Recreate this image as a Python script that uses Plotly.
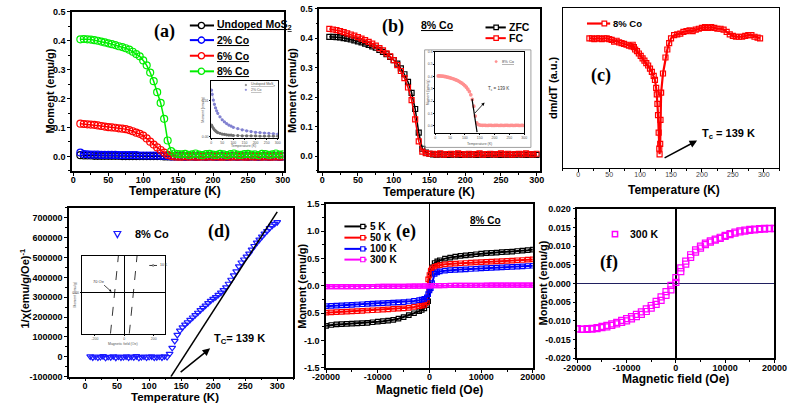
import plotly.graph_objects as go

W, H = 799, 408

# ---------------- data ----------------
# (a) / (b) temperature grid (K)
T_grid = [10, 15, 20, 25, 30, 35, 40, 45, 50, 55, 60, 65, 70, 75, 80, 85, 90, 95, 100, 105,
          110, 115, 120, 125, 130, 135, 140, 145, 150, 155, 160, 165, 170, 175, 180, 185, 190, 195,
          200, 205, 210, 215, 220, 225, 230, 235, 240, 245, 250, 255, 260, 265, 270, 275, 280, 285,
          290, 295, 300]

M_a_undoped = [0.004, 0.003, 0.003, 0.003, 0.002, 0.002, 0.002, 0.002, 0.002, 0.002,
               0.002, 0.002, 0.001, 0.001, 0.001, 0.001, 0.001, 0.001, 0.001, 0.001,
               0.001, 0.001, 0.001, 0.001, 0.000, 0.000, 0.000, 0.000, 0.000,
               0.000, -0.001, 0.000, 0.000, -0.001, 0.000, 0.000, -0.001, 0.000, 0.000,
               -0.001, 0.000, 0.000, -0.001, 0.000, 0.000, -0.001, 0.000, 0.000, -0.001,
               0.000, 0.000, -0.001, 0.000, 0.000, -0.001, 0.000, 0.000, -0.001, 0.000]
M_a_2 = [0.013, 0.008, 0.007, 0.006, 0.006, 0.006, 0.005, 0.005, 0.005, 0.005,
         0.005, 0.004, 0.004, 0.004, 0.004, 0.004, 0.004, 0.003, 0.003, 0.003,
         0.003, 0.003, 0.003, 0.002, 0.002, 0.001, 0.000, 0.000, 0.000,
         0.000, -0.001, 0.000, 0.000, -0.001, 0.000, 0.000, -0.001, 0.000, 0.000,
         -0.001, 0.000, 0.000, -0.001, 0.000, 0.000, -0.001, 0.000, 0.000, -0.001,
         0.000, 0.000, -0.001, 0.000, 0.000, -0.001, 0.000, 0.000, -0.001, 0.000]
M_a_6 = [0.113, 0.112, 0.111, 0.110, 0.109, 0.107, 0.105, 0.103, 0.101, 0.100,
         0.099, 0.097, 0.096, 0.094, 0.091, 0.087, 0.082, 0.078, 0.072, 0.062,
         0.051, 0.041, 0.031, 0.022, 0.013, 0.005, 0.001, 0.000, -0.001,
         -0.001, 0.000, -0.001, 0.000, -0.001, -0.001, 0.000, -0.001, 0.000, -0.001,
         0.000, -0.001, -0.001, 0.000, -0.001, 0.000, -0.001, 0.000, -0.001, -0.001,
         0.000, -0.001, 0.000, -0.001, 0.000, -0.001, -0.001, 0.000, -0.001, 0.000]
M_a_8 = [0.405, 0.406, 0.405, 0.404, 0.402, 0.400, 0.397, 0.394, 0.391, 0.388,
         0.385, 0.381, 0.378, 0.374, 0.369, 0.362, 0.354, 0.346, 0.332, 0.315,
         0.290, 0.260, 0.222, 0.185, 0.130, 0.055, 0.018, 0.010, 0.008,
         0.007, 0.009, 0.005, 0.007, 0.010, 0.006, 0.004, 0.008, 0.009, 0.006,
         0.005, 0.009, 0.007, 0.004, 0.008, 0.010, 0.006, 0.005, 0.008, 0.009,
         0.006, 0.007, 0.004, 0.009, 0.008, 0.005, 0.007, 0.010, 0.006, 0.007]

# (a) inset
T_ia = [2, 5, 10, 15, 20, 25, 30, 40, 50, 60, 70, 80, 90, 100, 120, 140, 160, 180, 200, 220, 240, 260, 280, 300]
M_ia_2 = [0.0130, 0.0118, 0.0102, 0.0090, 0.0080, 0.0072, 0.0065, 0.0055, 0.0047, 0.0041, 0.0036, 0.0032,
          0.0029, 0.0026, 0.0022, 0.0019, 0.0016, 0.0014, 0.0012, 0.0011, 0.0010, 0.0009, 0.0008, 0.0007]
M_ia_0 = [0.0032, 0.0028, 0.0023, 0.0019, 0.0016, 0.0013, 0.0011, 0.0009, 0.0007, 0.0006, 0.0005, 0.0004,
          0.0004, 0.0003, 0.0003, 0.0002, 0.0002, 0.0002, 0.0002, 0.0001, 0.0001, 0.0001, 0.0001, 0.0001]

# (b) ZFC / FC (8% Co)
M_b_zfc = [0.405, 0.405, 0.404, 0.403, 0.401, 0.399, 0.396, 0.393, 0.390, 0.386,
           0.382, 0.378, 0.373, 0.368, 0.361, 0.354, 0.346, 0.337, 0.326, 0.314,
           0.298, 0.278, 0.252, 0.215, 0.160, 0.080, 0.025, 0.012, 0.008,
           0.006, 0.005, 0.006, 0.005, 0.004, 0.005, 0.006, 0.005, 0.004, 0.005,
           0.005, 0.006, 0.004, 0.005, 0.005, 0.004, 0.005, 0.006, 0.005, 0.004,
           0.005, 0.005, 0.004, 0.005, 0.006, 0.005, 0.004, 0.005, 0.005, 0.004]
M_b_fc = [0.432, 0.430, 0.428, 0.425, 0.421, 0.417, 0.413, 0.409, 0.404, 0.399,
          0.394, 0.388, 0.382, 0.375, 0.367, 0.359, 0.349, 0.339, 0.326, 0.309,
          0.289, 0.265, 0.233, 0.190, 0.125, 0.050, 0.015, 0.010, 0.008,
          0.008, 0.006, 0.009, 0.005, 0.007, 0.008, 0.006, 0.009, 0.007, 0.005,
          0.008, 0.006, 0.007, 0.009, 0.005, 0.007, 0.008, 0.006, 0.007, 0.009,
          0.006, 0.008, 0.005, 0.007, 0.008, 0.006, 0.009, 0.007, 0.006, 0.008]
# (b) inset linear fit near Tc
T_fit_b = [124, 141]
M_fit_b = [0.22, -0.05]

# (c) dm/dT (a.u.)
T_c = [18, 22, 26, 30, 34, 38, 42, 46, 50, 54, 58, 62, 66, 70, 74, 78, 82, 86, 88, 90,
       92, 95, 98, 101, 104, 107, 110, 113, 116, 119, 122, 124, 126, 127, 128, 129, 130, 131, 131.5, 132.5,
       133, 134, 137, 141, 144, 147, 150, 155, 160, 165, 170, 175, 180, 185, 190, 195, 200, 205, 210, 215,
       220, 225, 230, 235, 240, 245, 250, 255, 260, 265, 270, 275, 280, 285, 290, 294]
dmdT_c = [0.81, 0.81, 0.805, 0.81, 0.81, 0.805, 0.81, 0.81, 0.805, 0.80,
          0.79, 0.795, 0.785, 0.78, 0.775, 0.77, 0.765, 0.76, 0.77, 0.755,
          0.74, 0.73, 0.715, 0.70, 0.685, 0.67, 0.655, 0.64, 0.62, 0.60,
          0.575, 0.55, 0.50, 0.46, 0.40, 0.33, 0.22, 0.12, 0.085, 0.15,
          0.30, 0.47, 0.59, 0.69, 0.74, 0.78, 0.81, 0.83, 0.835, 0.84,
          0.85, 0.855, 0.86, 0.855, 0.865, 0.87, 0.875, 0.88, 0.875, 0.88,
          0.875, 0.87, 0.87, 0.865, 0.85, 0.835, 0.825, 0.82, 0.82, 0.82,
          0.825, 0.83, 0.83, 0.82, 0.815, 0.81]

# (d) inverse susceptibility
T_d = [8, 12, 16, 20, 24, 28, 32, 36, 40, 44, 48, 52, 56, 60, 64, 68, 72, 76, 80, 84, 88, 92, 96, 100,
       104, 108, 112, 116, 120, 124, 128, 132, 136, 140, 144, 148, 152, 156, 160, 164, 168, 172, 176, 180,
       184, 188, 192, 196, 200, 204, 208, 212, 216, 220, 224, 228, 232, 236, 240, 244, 248, 252, 256, 260,
       264, 268, 272, 276, 280, 284, 288, 292, 296, 300]
chi_inv_d = [2000, -3000, 1500, -4000, -1000, 3000, -5000, 0, -2000, 2500, -4500, 1000, -3000, -1500, 2000,
             -4000, 500, -2500, 3000, -5000, -1000, 1500, -3500, 0, 2000, -4000, -2000, 1000, -3000, 2500, -1000,
             15000, 45000, 80000, 110000, 132000, 148000, 162000, 174000, 186000, 198000, 210000, 222000, 235000,
             246000, 258000, 270000, 282000, 292000, 301000, 312000, 323000, 336000, 350000, 368000, 388000,
             410000, 430000, 455000, 475000, 490000, 505000, 520000, 540000, 558000, 575000, 590000, 605000,
             620000, 633000, 648000, 660000, 670000, 678000]
T_fit_d = [134, 300]
chi_fit_d = [-100000, 730000]
# (d) inset: M(H) branches at 10 K
H_id_1 = [-94, -40]
M_id_1 = [-0.42, 0.38]
H_id_2 = [34, 87]
M_id_2 = [-0.42, 0.38]

# (e) M(H) loops
H_e = [-20000, -19000, -18000, -17000, -16000, -15000, -14000, -13000, -12000, -11000, -10000, -9000,
       -8000, -7000, -6000, -5000, -4000, -3000, -2000, -1500, -1000, -500, -250, 0, 250, 500, 1000, 1500,
       2000, 3000, 4000, 5000, 6000, 7000, 8000, 9000, 10000, 11000, 12000, 13000, 14000, 15000, 16000,
       17000, 18000, 19000, 20000]
M_e_5K = [-0.73, -0.715, -0.705, -0.70, -0.695, -0.69, -0.685, -0.68, -0.675, -0.665, -0.655, -0.645,
          -0.635, -0.62, -0.60, -0.57, -0.535, -0.50, -0.46, -0.44, -0.41, -0.35, -0.28, -0.05, 0.25, 0.34,
          0.42, 0.45, 0.47, 0.50, 0.52, 0.535, 0.55, 0.56, 0.57, 0.58, 0.59, 0.60, 0.605, 0.61, 0.62, 0.625,
          0.63, 0.64, 0.645, 0.655, 0.665]
M_e_50K = [-0.49, -0.485, -0.48, -0.475, -0.47, -0.465, -0.46, -0.455, -0.45, -0.445, -0.44, -0.435,
           -0.43, -0.42, -0.415, -0.41, -0.40, -0.385, -0.37, -0.36, -0.345, -0.30, 0.12, 0.20, 0.28, 0.32,
           0.35, 0.37, 0.38, 0.395, 0.405, 0.41, 0.415, 0.42, 0.425, 0.43, 0.435, 0.44, 0.445, 0.45, 0.455,
           0.46, 0.465, 0.47, 0.475, 0.48, 0.485]
M_e_100K = [-0.37, -0.365, -0.36, -0.355, -0.35, -0.345, -0.34, -0.335, -0.33, -0.325, -0.32, -0.315,
            -0.31, -0.305, -0.30, -0.295, -0.285, -0.275, -0.26, -0.25, -0.235, -0.21, -0.15, -0.08, -0.04, 0.05,
            0.22, 0.25, 0.265, 0.28, 0.29, 0.295, 0.30, 0.305, 0.31, 0.315, 0.32, 0.325, 0.33, 0.335, 0.34,
            0.345, 0.35, 0.355, 0.36, 0.365, 0.37]

# (e)/(f) 300 K loop
H_300 = [-20000, -19000, -18000, -17000, -16000, -15000, -14000, -13000, -12000, -11000, -10000, -9000,
         -8000, -7000, -6000, -5000, -4000, -3000, -2000, -1000, 0, 1000, 2000, 3000, 4000, 5000, 6000, 7000,
         8000, 9000, 10000, 11000, 12000, 13000, 14000, 15000, 16000, 17000, 18000, 19000, 20000]
M_300_up = [-0.0122, -0.0123, -0.0123, -0.0122, -0.0121, -0.0118, -0.0116, -0.0112, -0.0108, -0.0104,
            -0.0100, -0.0095, -0.0089, -0.0083, -0.0075, -0.0066, -0.0056, -0.0045, -0.0032, -0.0017,
            0.0003,
            0.0032, 0.0052, 0.0070, 0.0084, 0.0095, 0.0104, 0.0111, 0.0116, 0.0121, 0.0126,
            0.0131, 0.0135, 0.0138, 0.0140, 0.0142, 0.0144, 0.0145, 0.0146, 0.0147, 0.0147]
M_300_down = [-0.0121, -0.0122, -0.0121, -0.0120, -0.0118, -0.0115, -0.0112, -0.0108, -0.0104, -0.0099,
              -0.0094, -0.0089, -0.0083, -0.0076, -0.0068, -0.0059, -0.0048, -0.0036, -0.0022, -0.0005,
              0.0016,
              0.0042, 0.0060, 0.0077, 0.0090, 0.0100, 0.0108, 0.0114, 0.0119, 0.0124, 0.0129,
              0.0134, 0.0138, 0.0141, 0.0143, 0.0145, 0.0146, 0.0147, 0.0148, 0.0148, 0.0148]

# tick labels
ticks_T = [0, 50, 100, 150, 200, 250, 300]
labels_T = ["0", "50", "100", "150", "200", "250", "300"]
ticks_M = [0.0, 0.1, 0.2, 0.3, 0.4, 0.5]
labels_M = ["0.0", "0.1", "0.2", "0.3", "0.4", "0.5"]
ticks_Mi = [0.0, 0.1, 0.2, 0.3, 0.4, 0.5, 0.6]
labels_Mi = ["0.0", "0.1", "0.2", "0.3", "0.4", "0.5", "0.6"]
ticks_chi = [-100000, 0, 100000, 200000, 300000, 400000, 500000, 600000, 700000]
labels_chi = ["-100000", "0", "100000", "200000", "300000", "400000", "500000", "600000", "700000"]
ticks_H = [-20000, -10000, 0, 10000, 20000]
labels_H = ["-20000", "-10000", "0", "10000", "20000"]
ticks_Me = [-1.5, -1.0, -0.5, 0.0, 0.5, 1.0, 1.5]
labels_Me = ["-1.5", "-1.0", "-0.5", "0.0", "0.5", "1.0", "1.5"]
ticks_Mf = [-0.02, -0.015, -0.01, -0.005, 0.0, 0.005, 0.01, 0.015, 0.02]
labels_Mf = ["-0.020", "-0.015", "-0.010", "-0.005", "0.000", "0.005", "0.010", "0.015", "0.020"]
ticks_Hi = [-200, 0, 200]
labels_Hi = ["-200", "0", "200"]
ticks_Mia = [0.0, 0.01]
labels_Mia = ["0.00", "0.01"]

# ---------------- styling helpers ----------------
SANS = "Liberation Sans, Arial, sans-serif"
SERIF = "Liberation Serif, Times New Roman, serif"


def px(x):
    return x / W


def py(y):
    return 1 - y / H


def dx(x0, x1):
    return [x0 / W, x1 / W]


def dy(y0, y1):
    return [1 - y1 / H, 1 - y0 / H]


def axis(domain, rng, anchor, tv, tt, minor_dtick, minor_tick0=0, size=9, bold=True, color="black",
         lw=1.5, ticklen=3, show_labels=True, **kw):
    d = dict(domain=domain, range=rng, anchor=anchor, showline=True, linecolor="black", linewidth=lw,
             mirror=True, ticks="outside", ticklen=ticklen, tickwidth=1.2, tickcolor="black",
             showgrid=False, zeroline=False, tickmode="array", tickvals=tv, ticktext=tt,
             showticklabels=show_labels,
             tickfont=dict(family=SANS, size=size, color=color, weight="bold" if bold else "normal"))
    if minor_dtick:
        d["minor"] = dict(tickmode="linear", tick0=minor_tick0, dtick=minor_dtick, ticks="outside",
                          ticklen=2, tickwidth=1, tickcolor="black", showgrid=False)
    d.update(kw)
    return d


fig = go.Figure()


def sc(x, y, ax, color, symbol=None, size=6, mode="lines+markers", lw=1.5, name=None, dash=None, mlw=1.2):
    tr = dict(x=x, y=y, xaxis=ax[0], yaxis=ax[1], mode=mode, showlegend=False, name=name,
              line=dict(color=color, width=lw, dash=dash))
    if symbol:
        tr["marker"] = dict(symbol=symbol, size=size, color=color, line=dict(color=color, width=mlw))
    fig.add_trace(go.Scatter(**tr))


# (a)
A = ("x", "y")
sc(T_grid, M_a_undoped, A, "black", "circle-open", 7, name="Undoped MoS2")
sc(T_grid, M_a_2, A, "#0000ff", "circle-open", 7, name="2% Co")
sc(T_grid, M_a_6, A, "#ff0000", "circle-open", 7, name="6% Co")
sc(T_grid, M_a_8, A, "#00ee00", "circle-open", 7, name="8% Co")
# (a) inset
IA = ("x7", "y7")
sc(T_ia, M_ia_2, IA, "#8080d0", "circle", 2, lw=0.5, name="2% Co (inset)")
sc(T_ia, M_ia_0, IA, "#707070", "circle", 2, lw=0.5, name="Undoped (inset)")

# (b)
B = ("x2", "y2")
sc(T_grid, M_b_zfc, B, "black", "square-open", 5, name="ZFC")
sc(T_grid, M_b_fc, B, "#ff0000", "square-open", 5, name="FC")
# (b) inset
IB = ("x8", "y8")
sc(T_grid, M_b_zfc, IB, "#ff9090", "circle", 2.5, mode="markers", name="8% Co (inset)")
sc(T_fit_b, M_fit_b, IB, "black", None, mode="lines", lw=1.2, name="fit")

# (c)
C = ("x3", "y3")
sc(T_c, dmdT_c, C, "#ff0000", "square-open", 5, lw=2.2, name="8% Co")

# (d)
D = ("x4", "y4")
sc(T_d, chi_inv_d, D, "#1a1aff", "triangle-down-open", 6, mode="markers", name="8% Co")
sc(T_fit_d, chi_fit_d, D, "black", None, mode="lines", lw=1.5, name="Curie-Weiss fit")
ID = ("x9", "y9")
sc(H_id_1, M_id_1, ID, "black", None, mode="lines", lw=0.8, dash="dash", name="10 K")
sc(H_id_2, M_id_2, ID, "black", None, mode="lines", lw=0.8, dash="dash", name="10 K")

# (e)
E = ("x5", "y5")
sc(H_e, M_e_5K, E, "black", "square-open", 4.5, lw=2, name="5 K")
sc(H_e, M_e_50K, E, "#ff0000", "square-open", 4.5, lw=2, name="50 K")
sc(H_e, M_e_100K, E, "#0000ff", "square-open", 4.5, lw=2, name="100 K")
sc(H_300, M_300_up, E, "#ff00ff", "square-open", 4, lw=1.5, name="300 K")
sc(H_300, M_300_down, E, "#ff00ff", "square-open", 4, lw=1.5, name="300 K")

# (f)
F = ("x6", "y6")
sc(H_300, M_300_up, F, "#ff00ff", "square-open", 6, mode="markers", name="300 K")
sc(H_300, M_300_down, F, "#ff00ff", "square-open", 6, mode="markers", name="300 K")

# ---------------- axes ----------------
XS = dict(ticklabelstandoff=-3)
lay = {}
lay["xaxis"] = axis(dx(60, 279), [-2, 301], "y", ticks_T, labels_T, 25, **XS)
lay["yaxis"] = axis(dy(7, 170), [-0.05, 0.5], "x", ticks_M, labels_M, 0.05)
lay["xaxis2"] = axis(dx(316, 544), [-4, 304], "y2", ticks_T, labels_T, 25, **XS)
lay["yaxis2"] = axis(dy(4, 170), [-0.05, 0.5], "x2", ticks_M, labels_M, 0.05)
lay["xaxis3"] = axis(dx(568, 792), [-25, 325], "y3", ticks_T, labels_T, 25, size=7, bold=False,
                     color="#444444", lw=1.2, **XS)
lay["yaxis3"] = axis(dy(3, 167), [0, 1], "x3", [], [], None, lw=1.2, ticks="")
lay["xaxis4"] = axis(dx(57, 289), [-25, 325], "y4", ticks_T, labels_T, 25, **XS)
lay["yaxis4"] = axis(dy(208, 381), [-100000, 750000], "x4", ticks_chi, labels_chi, 50000)
lay["xaxis5"] = axis(dx(323, 537), [-20000, 20000], "y5", ticks_H, labels_H, 5000,
                     zeroline=True, zerolinecolor="black", zerolinewidth=1.3, **XS)
lay["yaxis5"] = axis(dy(204, 372), [-1.5, 1.5], "x5", ticks_Me, labels_Me, 0.25)
lay["xaxis6"] = axis(dx(583, 787), [-20000, 20000], "y6", ticks_H, labels_H, 5000,
                     zeroline=True, zerolinecolor="black", zerolinewidth=2, **XS)
lay["yaxis6"] = axis(dy(209, 362), [-0.02, 0.02], "x6", ticks_Mf, labels_Mf, 0.0025,
                     zeroline=True, zerolinecolor="#202060", zerolinewidth=1)
# insets
lay["xaxis7"] = axis(dx(204, 273), [0, 300], "y7", ticks_T, labels_T, None, size=3.5, bold=False,
                     color="#555555", lw=0.7, ticklen=1)
lay["yaxis7"] = axis(dy(78, 136), [-0.0003, 0.0155], "x7", ticks_Mia, labels_Mia, None, size=3.5,
                     bold=False, color="#555555", lw=0.7, ticklen=1)
lay["xaxis8"] = axis(dx(436, 528), [0, 300], "y8", ticks_T, labels_T, None, size=3.5, bold=False,
                     color="#555555", lw=0.7, ticklen=1)
lay["yaxis8"] = axis(dy(48, 131), [-0.055, 0.6], "x8", ticks_Mi, labels_Mi, None, size=3.5, bold=False,
                     color="#555555", lw=0.7, ticklen=1)
lay["xaxis9"] = axis(dx(70, 156), [-290, 275], "y9", ticks_Hi, labels_Hi, None, size=3.5, bold=False,
                     color="#555555", lw=0.8, ticklen=1, zeroline=True, zerolinecolor="black",
                     zerolinewidth=1)
lay["yaxis9"] = axis(dy(257, 337), [-0.42, 0.38], "x9", [0], ["0.00"], None, size=3.5, bold=False,
                     color="#555555", lw=0.8, ticklen=1, zeroline=True, zerolinecolor="black",
                     zerolinewidth=1)

# ---------------- annotations / legends ----------------
ann = []
shapes = []


def txt(x, y, s, size=10, anchor="left", bold=True, family=SANS, color="black", angle=0):
    ann.append(dict(x=px(x), y=py(y), xref="paper", yref="paper", text=s, showarrow=False,
                    xanchor=anchor, yanchor="middle", textangle=angle,
                    font=dict(family=family, size=size, color=color, weight="bold" if bold else "normal")))


def arrow(hx, hy, tx, ty, width=1.5, head=2, size=1.0, color="black"):
    ann.append(dict(x=px(hx), y=py(hy), xref="paper", yref="paper", text="", showarrow=True,
                    ax=tx - hx, ay=ty - hy, axref="pixel", ayref="pixel", arrowhead=head,
                    arrowsize=size, arrowwidth=width, arrowcolor=color))


def seg(x0, x1, y, color, width=2):
    shapes.append(dict(type="line", xref="paper", yref="paper", x0=px(x0), x1=px(x1), y0=py(y), y1=py(y),
                       line=dict(color=color, width=width)))


def circ(cx, cy, r, color, lw=1.3, fill="white"):
    shapes.append(dict(type="circle", xref="paper", yref="paper", x0=px(cx - r), x1=px(cx + r),
                       y0=py(cy + r), y1=py(cy - r), line=dict(color=color, width=lw), fillcolor=fill))


def sq(cx, cy, r, color, lw=1.2, fill="white"):
    shapes.append(dict(type="rect", xref="paper", yref="paper", x0=px(cx - r), x1=px(cx + r),
                       y0=py(cy + r), y1=py(cy - r), line=dict(color=color, width=lw), fillcolor=fill))


def tri_down(cx, cy, r, color, lw=1.2):
    path = "M {:.5f} {:.5f} L {:.5f} {:.5f} L {:.5f} {:.5f} Z".format(
        px(cx - r), py(cy - r * 0.8), px(cx + r), py(cy - r * 0.8), px(cx), py(cy + r))
    shapes.append(dict(type="path", xref="paper", yref="paper", path=path, line=dict(color=color, width=lw)))


# panel labels
txt(156, 27, "(a)", 18, "center", True, SERIF)
txt(392, 22, "(b)", 18, "center", True, SERIF)
txt(608, 72, "(c)", 18, "center", True, SERIF)
txt(212, 232, "(d)", 18, "center", True, SERIF)
txt(406, 232, "(e)", 18, "center", True, SERIF)
txt(616, 264, "(f)", 18, "center", True, SERIF)

# axis titles
txt(167, 191, "Temperature (K)", 12, "center")
txt(37, 88, "Moment (emu/g)", 11, "center", angle=-90)
txt(430, 192, "Temperature (K)", 12, "center")
txt(288, 88, "Moment (emu/g)", 11, "center", angle=-90)
txt(683, 190, "Temperature (K)", 12, "center")
txt(558, 85, "dm/dT (a.u.)", 11, "center", angle=-90)
txt(167, 402, "Temperature (K)", 11.5, "center")
txt(11, 290, "1/χ(emu/g/Oe)<sup>-1</sup>", 11, "center", angle=-90)
txt(430, 395, "Magnetic field (Oe)", 12, "center")
txt(298, 288, "Moment (emu/g)", 11, "center", angle=-90)
txt(685, 383, "Magnetic field (Oe)", 12, "center")
txt(548, 285, "Moment (emu/g)", 11, "center", angle=-90)

# legend (a)
for yy, col, lab in [(21, "black", "<u>Undoped MoS<sub>2</sub></u>"), (36, "#0000ff", "<u>2% Co</u>"),
                     (52, "#ff0000", "<u>6% Co</u>"), (68, "#00ee00", "<u>8% Co</u>")]:
    seg(182, 207, yy, col, 2)
    circ(194, yy, 3.2, col)
    txt(208, yy, lab, 10.5)

# legend (b)
txt(438, 21, "<u>8% Co</u>", 10.5, "center")
for yy, col, lab in [(23, "black", "ZFC"), (34, "#ff0000", "FC")]:
    seg(488, 509, yy, col, 2)
    sq(499, yy, 2.3, col)
    txt(510, yy, lab, 10.5)

# legend (c)
seg(593, 617, 19, "#ff0000", 2.2)
sq(611, 19, 2.4, "#ff0000")
txt(618, 19, "8% Co", 9.5)
txt(710, 132, "T<sub>c</sub> = 139 K", 11)
arrow(707, 139, 673, 157, 1.5)

# legend (d)
tri_down(107, 235, 3.5, "#1a1aff")
txt(123, 235, "8% Co", 11, bold=True)
txt(205, 342, "T<sub>C</sub>= 139 K", 11)
arrow(203, 352, 172, 377, 1.5)

# legend (e)
txt(488, 221, "<u>8% Co</u>", 10, "center")
for yy, col, lab in [(227, "black", "5 K"), (238.5, "#ff0000", "50 K"), (250, "#0000ff", "100 K"),
                     (261, "#ff00ff", "300 K")]:
    seg(342, 365, yy, col, 2)
    sq(361, yy, 2.2, col)
    txt(366, yy, lab, 10)

# legend (f)
sq(622, 235, 2.7, "#ff00ff", 1.5)
txt(635, 235, "300 K", 10.5)

# inset (a) decorations
txt(196, 107, "Moment (emu/g)", 3.5, "center", False, color="#555555", angle=-90)
txt(238, 145, "Temperature (K)", 3.5, "center", False, color="#555555")
txt(243, 82, "<u>Undoped MoS<sub>2</sub></u>", 3.5, "left", False, color="#555555")
txt(243, 87, "<u>2% Co</u>", 3.5, "left", False, color="#555555")
circ(240, 82, 0.8, "#707070", 0.5, "#707070")
circ(240, 87, 0.8, "#8080d0", 0.5, "#8080d0")

# inset (b) decorations
shapes.append(dict(type="rect", xref="paper", yref="paper", x0=px(425), x1=px(535), y0=py(146), y1=py(46),
                   line=dict(color="#888888", width=0.8)))
txt(428, 90, "Moment (emu/g)", 3.5, "center", False, color="#555555", angle=-90)
txt(482, 142, "Temperature (K)", 3.5, "center", False, color="#555555")
circ(499, 58, 1.2, "#ff9090", 0.5, "#ff9090")
txt(503, 58, "<u>8% Co</u>", 4, "left", False, color="#444444")
txt(488, 86, "T<sub>c</sub> = 139 K", 4.5, "left", False, color="#333333")
arrow(487, 100, 476, 112, 0.8, 2, 0.8)

# inset (d) decorations
txt(63, 297, "Moment (emu/g)", 3.5, "center", False, color="#555555", angle=-90)
txt(113, 348, "Magnetic field (Oe)", 3.5, "center", False, color="#555555")
txt(88, 283, "70 Oe", 4, "center", False, color="#333333")
arrow(101, 294, 92, 286, 0.7, 2, 0.7)
seg(140, 148, 267, "black", 0.8)
circ(144, 267, 0.9, "black", 0.5, "white")
txt(149, 267, "10 K", 3.5, "left", False, color="#333333")

fig.update_layout(
    width=W, height=H, margin=dict(l=0, r=0, t=0, b=0), showlegend=False,
    paper_bgcolor="white", plot_bgcolor="white",
    annotations=ann, shapes=shapes, **lay
)

fig.write_html("out.html", config={"displayModeBar": False},
               post_script="document.body.style.margin='0px';document.body.style.overflow='hidden';")
